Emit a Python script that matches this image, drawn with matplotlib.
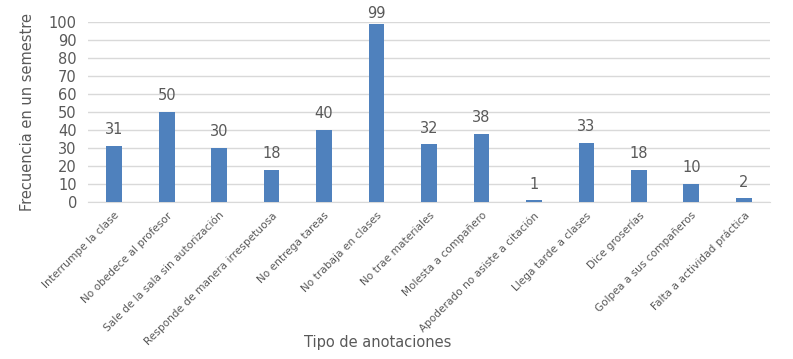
import numpy as np
import matplotlib.pyplot as plt

categorias = ['Interrumpe la clase', 'No obedece al profesor', 'Sale de la sala sin autorización',
              'Responde de manera irrespetuosa', 'No entrega tareas', 'No trabaja en clases',
              'No trae materiales', 'Molesta a compañero', 'Apoderado no asiste a citación',
              'Llega tarde a clases', 'Dice groserías', 'Golpea a sus compañeros',
              'Falta a actividad práctica']
frecuencia = [31, 50, 30, 18, 40, 99, 32, 38, 1, 33, 18, 10, 2]

gris = '#595959'
fig = plt.figure(figsize=(7.93, 3.59), dpi=100)
ax = fig.add_axes([88/793, 1-202/359, (770-88)/793, 180/359])

x = np.arange(len(categorias))
ax.bar(x, frecuencia, width=0.3, color='#4F81BD', zorder=3)
for xi, v in zip(x, frecuencia):
    # etiqueta encima de la barra, sin salirse por arriba
    ax.text(xi, min(v + 6.5, 102), str(v), ha='center', va='baseline', fontsize=10.5, color=gris)

ax.set_xlim(-0.5, len(categorias) - 0.5)
ax.set_ylim(0, 100)
ax.set_yticks(range(0, 101, 10))
ax.yaxis.grid(True, color='#d9d9d9', linewidth=1, zorder=0)
ax.tick_params(axis='both', length=0, colors=gris)
ax.tick_params(axis='y', labelsize=10.5, pad=8)
ax.tick_params(axis='x', pad=6)
ax.set_xticks(x)
ax.set_xticklabels(categorias, rotation=45, ha='right', rotation_mode='anchor', fontsize=7.6)
for s in ['top', 'right', 'left']:
    ax.spines[s].set_visible(False)
ax.spines['bottom'].set_color('#d9d9d9')

ax.set_ylabel('Frecuencia en un semestre', fontsize=10.5, color=gris, labelpad=10)
fig.text(378/793, 1-343/359, 'Tipo de anotaciones', ha='center', va='center', fontsize=10.5, color=gris)

plt.savefig('out.png')
